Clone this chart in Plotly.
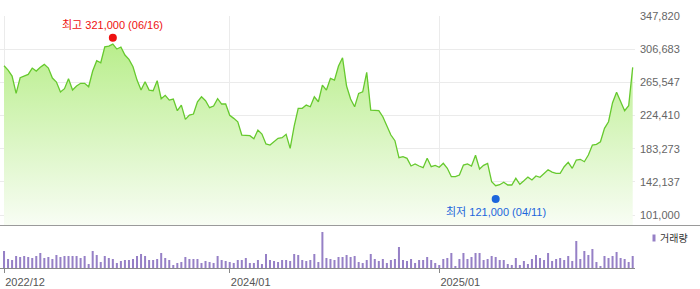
import pandas as pd
import plotly.graph_objects as go

# ---------------- data ----------------
start_date = "2022-12-09"   # weekly (Friday) closes

close_prices = [
    286200, 280800, 273400, 251900, 271300, 273400, 275500, 283300, 279600, 284200,
    287900, 283300, 270900, 266000, 253600, 257700, 270100, 256000, 261000, 264400,
    264400, 260100, 279600, 292400, 289900, 309700, 310600, 313100, 306900, 309400,
    299500, 294100, 284900, 268400, 256000, 266300, 256000, 255200, 267600, 245300,
    249500, 243600, 244900, 230400, 237400, 219700, 225000, 226300, 241500, 247700,
    242800, 234100, 236200, 245300, 238700, 238700, 224700, 220900, 216700, 200200,
    199400, 199400, 195600, 206400, 201500, 189100, 187800, 192400, 196100, 196900,
    201100, 183700, 211400, 233300, 233300, 237400, 235300, 247700, 241500, 262200,
    256000, 270500, 268400, 285800, 296100, 261000, 244900, 235300, 251900, 253900,
    278000, 231200, 231200, 230400, 222900, 212600, 200200, 193200, 172100, 173300,
    171300, 161800, 164300, 161800, 159700, 171300, 160900, 162600, 160200, 165100,
    158900, 148500, 148500, 150600, 163000, 164300, 161800, 175100, 158100, 162600,
    165100, 142300, 137300, 138600, 141600, 138200, 138200, 146500, 139100, 143400,
    148000, 144400, 149400, 147800, 152100, 157200, 154300, 152700, 152700, 160900,
    166400, 158900, 169200, 170100, 167100, 175400, 187800, 188700, 191900, 208500,
    216700, 240300, 253200, 242800, 230400, 236600, 284200,
]

volumes = [
    153000, 81000, 72000, 108000, 99000, 108000, 99000, 90000, 108000, 135000,
    90000, 99000, 81000, 117000, 99000, 108000, 108000, 108000, 108000, 90000,
    108000, 36000, 153000, 117000, 54000, 108000, 90000, 81000, 45000, 63000,
    72000, 72000, 81000, 108000, 126000, 108000, 72000, 72000, 81000, 135000,
    90000, 72000, 27000, 45000, 54000, 99000, 81000, 81000, 81000, 45000,
    63000, 54000, 45000, 108000, 72000, 63000, 54000, 45000, 72000, 72000,
    90000, 45000, 45000, 72000, 36000, 126000, 72000, 63000, 54000, 72000,
    72000, 63000, 126000, 117000, 72000, 63000, 72000, 126000, 54000, 324000,
    90000, 81000, 72000, 99000, 99000, 117000, 99000, 108000, 54000, 45000,
    72000, 126000, 81000, 63000, 81000, 45000, 72000, 81000, 189000, 72000,
    63000, 81000, 45000, 72000, 72000, 99000, 72000, 45000, 27000, 81000,
    90000, 135000, 18000, 81000, 135000, 81000, 99000, 135000, 135000, 72000,
    81000, 108000, 99000, 72000, 72000, 36000, 27000, 90000, 27000, 63000,
    36000, 81000, 117000, 90000, 72000, 135000, 63000, 81000, 90000, 72000,
    108000, 63000, 243000, 81000, 153000, 117000, 171000, 54000, 18000, 108000,
    90000, 108000, 144000, 90000, 81000, 54000, 108000,
]

high_value = 321000
high_date = "2023-06-16"
high_label = "최고 321,000 (06/16)"
low_value = 121000
low_date = "2025-04-11"
low_label = "최저 121,000 (04/11)"

y_ticks = [101000, 142137, 183273, 224410, 265547, 306683, 347820]
x_tick_dates = ["2022-12-09", "2024-01-05", "2025-01-03"]
x_tick_labels = ["2022/12", "2024/01", "2025/01"]
volume_name = "거래량"

dates = pd.date_range(start_date, periods=len(close_prices), freq="7D")

# ---------------- styling ----------------
W, H = 700, 289
ML, MR, MT, MB = 0, 65, 16, 21
PW, PH = W - ML - MR, H - MT - MB
FONT = "Liberation Sans, Arial, 'Noto Sans CJK KR', sans-serif"
LINE = "#66c92e"
VOL = "#9680c6"
GRID = "#ebebeb"
RED = "#ee1111"
BLUE = "#1c66dc"

price_dom = [(268 - 225) / PH, 1.0]
vol_dom = [0.0, (268 - 226) / PH]

fig = go.Figure()

fig.add_trace(go.Scatter(
    x=dates, y=close_prices, mode="lines",
    line=dict(color=LINE, width=1.3),
    fill="tozeroy",
    fillgradient=dict(type="vertical",
                      colorscale=[[0, "rgb(248,253,244)"], [1, "rgb(185,238,140)"]],
                      start=88600, stop=max(close_prices)),
    xaxis="x", yaxis="y", hoverinfo="skip", showlegend=False,
))

fig.add_trace(go.Scatter(
    x=[high_date, low_date], y=[high_value, low_value], mode="markers",
    marker=dict(color=[RED, BLUE], size=8, line=dict(width=0)),
    xaxis="x", yaxis="y", showlegend=False, cliponaxis=False,
))

fig.add_trace(go.Bar(
    x=dates, y=volumes, marker=dict(color=VOL, line=dict(width=0)),
    xaxis="x2", yaxis="y2", showlegend=False, name=volume_name,
))

x_range = ["2022-12-02", "2025-12-09"]

fig.update_layout(
    width=W, height=H,
    margin=dict(l=ML, r=MR, t=MT, b=MB),
    paper_bgcolor="white", plot_bgcolor="white",
    font=dict(family=FONT, size=11, color="#666"),
    bargap=0.5,
    showlegend=False,
    xaxis=dict(type="date", range=x_range, domain=[0, 1], anchor="y",
               tickvals=x_tick_dates, showticklabels=False,
               showgrid=True, gridcolor=GRID, gridwidth=1,
               ticks="", showline=False, zeroline=False),
    yaxis=dict(domain=price_dom, range=[88600, 347900], side="right",
               tickvals=y_ticks, tickformat=",d",
               showgrid=True, gridcolor=GRID, gridwidth=1,
               ticks="", ticklabelstandoff=4, showline=False, zeroline=False,
               tickfont=dict(size=11, color="#666")),
    xaxis2=dict(type="date", range=x_range, domain=[0, 1], anchor="y2",
                tickvals=x_tick_dates, ticktext=x_tick_labels,
                showgrid=False, ticks="outside", ticklen=4, tickcolor="#888",
                showline=True, linecolor="#888", linewidth=1,
                ticklabelshift=21, zeroline=False,
                tickfont=dict(size=11, color="#555")),
    yaxis2=dict(domain=vol_dom, range=[0, max(volumes) * 42 / 36],
                showgrid=False, showticklabels=False, ticks="",
                showline=False, zeroline=False),
)

# separator between price and volume panes
fig.add_shape(type="line", xref="paper", yref="paper",
              x0=0, x1=W / PW, y0=(268 - 225.5) / PH, y1=(268 - 225.5) / PH,
              line=dict(color="#9a9a9a", width=1))

# legend for volume
fig.add_shape(type="rect", xref="paper", yref="paper",
              x0=652.5 / PW, x1=655.5 / PW,
              y0=(268 - 241.5) / PH, y1=(268 - 234.5) / PH,
              fillcolor=VOL, line=dict(width=0))
fig.add_annotation(xref="paper", yref="paper", x=657.5 / PW, y=(268 - 238) / PH,
                   xanchor="left", yanchor="middle", showarrow=False,
                   text=volume_name, font=dict(size=10, color="#333", family=FONT))

# high / low labels
fig.add_annotation(x=high_date, y=high_value, xref="x", yref="y",
                   text=high_label, showarrow=False, yshift=13,
                   font=dict(size=11, color=RED, family=FONT))
fig.add_annotation(x=low_date, y=low_value, xref="x", yref="y",
                   text=low_label, showarrow=False, yshift=-13,
                   font=dict(size=11, color=BLUE, family=FONT))

fig.write_html("out.html")
